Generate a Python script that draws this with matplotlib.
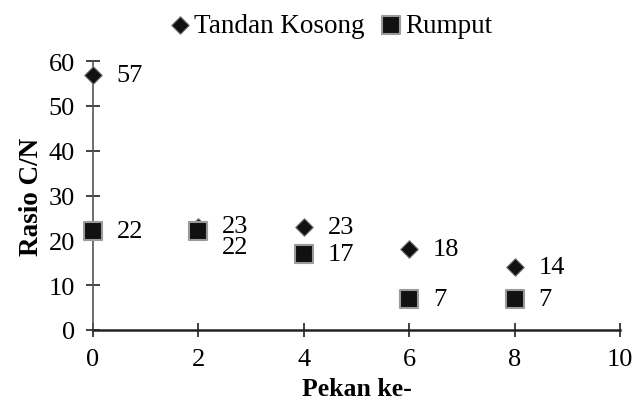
import matplotlib
matplotlib.use("Agg")
import matplotlib.pyplot as plt

plt.rcParams['font.family'] = ['Liberation Serif', 'DejaVu Serif']

weeks = [0, 2, 4, 6, 8]
tandan = [57, 23, 23, 18, 14]
rumput = [22, 22, 17, 7, 7]
xticks = [0, 2, 4, 6, 8, 10]
yticks = [0, 10, 20, 30, 40, 50, 60]

fig = plt.figure(figsize=(6.42, 4.14), dpi=100)
ax = fig.add_axes([0.1449, 0.2005, 0.8208, 0.6495])

ax.scatter(weeks, tandan, marker='D', s=80, c='#111111', edgecolors='#777777',
           linewidths=0.8, zorder=3, label='Tandan Kosong', clip_on=False)
ax.scatter(weeks, rumput, marker='s', s=150, c='#111111', edgecolors='#9a9a9a',
           linewidths=1.5, zorder=4, label='Rumput', clip_on=False)

fs = 19
for i, (x, y) in enumerate(zip(weeks, tandan)):
    dy = 1 if i == 1 else 0
    ax.annotate(str(y), (x, y), xytext=(17, dy), textcoords='offset points',
                ha='left', va='center', fontsize=fs)
for i, (x, y) in enumerate(zip(weeks, rumput)):
    dy = -11 if i == 1 else 0
    ax.annotate(str(y), (x, y), xytext=(17, dy), textcoords='offset points',
                ha='left', va='center', fontsize=fs)

ax.set_xlim(0, 10)
ax.set_ylim(0, 60)
ax.set_xticks(xticks)
ax.set_yticks(yticks)
ax.tick_params(direction='inout', length=10, width=1.2, labelsize=fs, color='#222222', pad=8)
ax.spines['top'].set_visible(False)
ax.spines['right'].set_visible(False)
ax.spines['left'].set_color('#555555')
ax.spines['left'].set_linewidth(1.2)
ax.spines['bottom'].set_color('#222222')
ax.spines['bottom'].set_linewidth(1.8)

ax.set_xlabel('Pekan ke-', fontsize=18.5, fontweight='bold', labelpad=5)
ax.set_ylabel('Rasio C/N', fontsize=19.5, fontweight='bold', labelpad=3)

h, l = ax.get_legend_handles_labels()
fig.legend(h, l, loc='upper center', bbox_to_anchor=(0.513, 1.025), ncol=2,
           frameon=False, fontsize=19.5, handletextpad=0.0, columnspacing=0.5,
           handlelength=1.0, markerscale=1.0)

fig.savefig('out.png', dpi=100)
